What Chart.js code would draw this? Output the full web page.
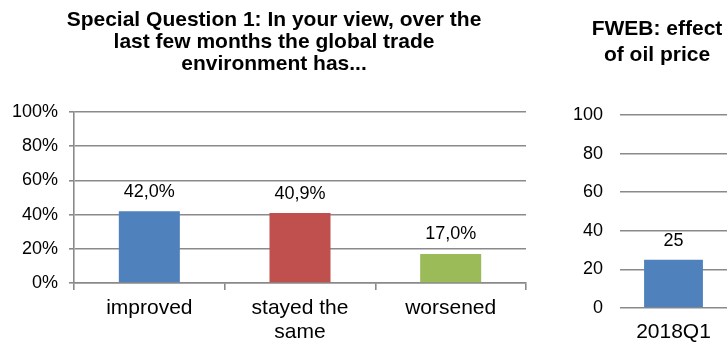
<!DOCTYPE html>
<html>
<head>
<meta charset="utf-8">
<script src="https://cdn.jsdelivr.net/npm/chart.js@4/dist/chart.umd.min.js"></script>
<style>
  html, body { margin: 0; padding: 0; background: #fff; overflow: hidden; width: 727px; height: 346px; position: relative; }
  canvas { position: absolute; top: 0; }
  #trade { left: 0; }
  #oil { left: 560px; }
</style>
</head>
<body>
<canvas id="trade" width="548" height="346"></canvas>
<canvas id="oil" width="194" height="346"></canvas>
<script>
// Special Question 1: global trade environment
const tradeCategories = [['improved'], ['stayed the', 'same'], ['worsened']];
const tradeShares = [42.0, 40.9, 17.0];
const tradeColors = ['#4F81BD', '#C0504D', '#9BBB59'];
const shareTicks = [0, 20, 40, 60, 80, 100];

// FWEB: effect of oil price
const oilCategories = ['2018Q1'];
const oilBalance = [25];
const oilColor = '#4F81BD';
const balanceTicks = [0, 20, 40, 60, 80, 100];

const FONT = "'Liberation Sans', Arial, sans-serif";
const GRID = '#8a8a8a';
const LINE = 1.6;

// Writes each bar's value just above the bar top
function valueLabels(format, gap) {
  return {
    id: 'valueLabels',
    afterDatasetsDraw(chart) {
      const ctx = chart.ctx;
      ctx.save();
      ctx.font = '18px ' + FONT;
      ctx.fillStyle = '#000';
      ctx.textAlign = 'center';
      ctx.textBaseline = 'alphabetic';
      chart.data.datasets.forEach((ds, i) => {
        chart.getDatasetMeta(i).data.forEach((bar, j) => {
          ctx.fillText(format(ds.data[j]), bar.x, bar.y - gap);
        });
      });
      ctx.restore();
    }
  };
}

function fixedSize(w, h) {
  return (scale) => {
    if (w != null) scale.width = w;
    if (h != null) scale.height = h;
  };
}

// Empty right-hand margin that keeps the plot narrower than the title band
function spacerAxis(width) {
  return {
    type: 'linear',
    position: 'right',
    display: true,
    afterFit: fixedSize(width, null),
    grid: { display: false, drawTicks: false },
    border: { display: false },
    ticks: { display: false }
  };
}

new Chart(document.getElementById('trade'), {
  type: 'bar',
  data: {
    labels: tradeCategories,
    datasets: [{
      data: tradeShares,
      backgroundColor: tradeColors,
      categoryPercentage: 1,
      barPercentage: 0.405,
      yAxisID: 'y'
    }]
  },
  options: {
    responsive: false,
    animation: false,
    events: [],
    layout: { padding: 0 },
    plugins: {
      legend: { display: false },
      tooltip: { enabled: false },
      title: {
        display: true,
        text: ['Special Question 1: In your view, over the', 'last few months the global trade', 'environment has...'],
        color: '#000',
        font: { family: FONT, size: 21, weight: 'bold', lineHeight: 1.07 },
        padding: { top: 8.5, bottom: 36 }
      }
    },
    scales: {
      x: {
        afterFit: fixedSize(null, 63),
        grid: { display: true, offset: true, drawOnChartArea: false, drawTicks: true, tickLength: 7, color: GRID, lineWidth: LINE },
        border: { display: true, color: GRID, width: LINE },
        ticks: { color: '#000', padding: 6, font: { family: FONT, size: 21, lineHeight: 1.14 }, maxRotation: 0, autoSkip: false }
      },
      y: {
        min: 0, max: 100,
        afterFit: fixedSize(74, null),
        afterBuildTicks: (scale) => { scale.ticks = shareTicks.map(v => ({ value: v })); },
        grid: { color: GRID, lineWidth: LINE, drawTicks: true, tickLength: 5 },
        border: { display: true, color: GRID, width: LINE },
        ticks: { color: '#000', padding: 11, font: { family: FONT, size: 18 }, callback: (v) => v + '%' }
      },
      margin: spacerAxis(22)
    }
  },
  plugins: [valueLabels(v => v.toFixed(1).replace('.', ',') + '%', 14.5)]
});

new Chart(document.getElementById('oil'), {
  type: 'bar',
  data: {
    labels: oilCategories,
    datasets: [{
      data: oilBalance,
      backgroundColor: oilColor,
      categoryPercentage: 1,
      barPercentage: 0.55,
      yAxisID: 'y'
    }]
  },
  options: {
    responsive: false,
    animation: false,
    events: [],
    layout: { padding: 0 },
    plugins: {
      legend: { display: false },
      tooltip: { enabled: false },
      title: {
        display: true,
        text: ['FWEB: effect', 'of oil price'],
        color: '#000',
        font: { family: FONT, size: 21, weight: 'bold', lineHeight: 1.2 },
        padding: { top: 17.1, bottom: 47.5 }
      }
    },
    scales: {
      x: {
        afterFit: fixedSize(null, 38),
        grid: { display: false, drawTicks: false },
        border: { display: false },
        ticks: { color: '#000', padding: 12, font: { family: FONT, size: 21, lineHeight: 1.14 }, maxRotation: 0 }
      },
      y: {
        min: 0, max: 100,
        afterFit: fixedSize(60, null),
        afterBuildTicks: (scale) => { scale.ticks = balanceTicks.map(v => ({ value: v })); },
        grid: { color: GRID, lineWidth: LINE, drawTicks: false },
        border: { display: false },
        ticks: { color: '#000', padding: 17, font: { family: FONT, size: 18 } }
      },
      margin: spacerAxis(27)
    }
  },
  plugins: [valueLabels(v => String(v), 14)]
});
</script>
</body>
</html>
